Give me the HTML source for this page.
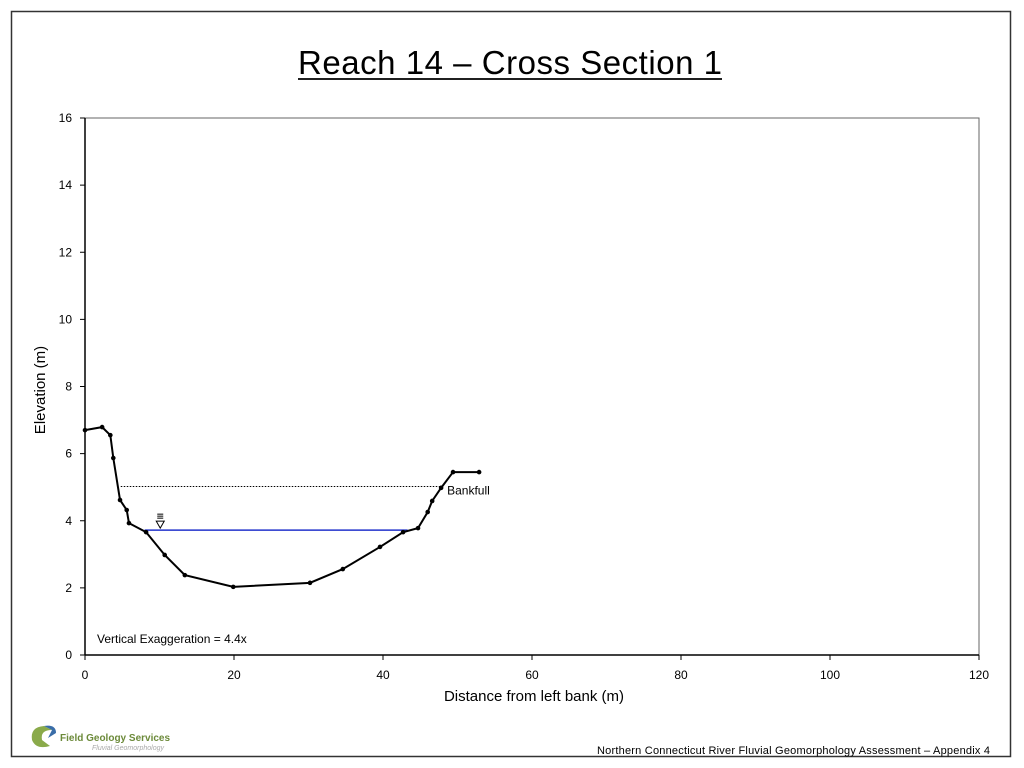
<!DOCTYPE html>
<html><head><meta charset="utf-8"><style>
body{margin:0;background:#fff;font-family:"Liberation Sans",sans-serif}
svg{display:block}
</style></head><body>
<svg width="1024" height="768" viewBox="0 0 1024 768">
<rect x="11.5" y="11.5" width="999" height="745" fill="none" stroke="#333" stroke-width="1.5"/>
<text x="510" y="74" font-size="33" text-anchor="middle" textLength="424">Reach 14 – Cross Section 1</text>
<line x1="298" y1="79" x2="722" y2="79" stroke="#000" stroke-width="1.8"/>
<rect x="85" y="118" width="894" height="537" fill="none" stroke="#666" stroke-width="1"/>
<g id="axes"></g>
<g id="marks"></g>
<text x="97" y="643" font-size="12">Vertical Exaggeration = 4.4x</text>
<text x="534" y="701" font-size="15" text-anchor="middle">Distance from left bank (m)</text>
<text x="45" y="390" font-size="15" text-anchor="middle" transform="rotate(-90 45 390)">Elevation (m)</text>
<g>
<path d="M32 740 Q30 727 44 726 L52 730 Q40 730 42 740 L50 746 Q36 750 32 740Z" fill="#8aaa4a"/>
<path d="M44 726 Q56 724 56 733 L48 738 L52 730Z" fill="#3a6da8"/>
<text x="60" y="741" font-size="10" fill="#6c8a3a" font-weight="bold">Field Geology Services</text>
<text x="92" y="750" font-size="7" fill="#aaa" font-style="italic">Fluvial Geomorphology</text>
</g>
<text x="990" y="754" font-size="11" text-anchor="end" textLength="393">Northern Connecticut River Fluvial Geomorphology Assessment – Appendix 4</text>
</svg>
<script>
const xTicks=[0,20,40,60,80,100,120];
const yTicks=[0,2,4,6,8,10,12,14,16];
const dist=[0,2.3,3.4,3.8,4.7,5.6,5.9,8.2,10.7,13.4,19.9,30.2,34.6,39.6,42.7,44.7,46.0,46.6,47.8,49.4,52.9];
const elev=[6.70,6.79,6.55,5.87,4.62,4.32,3.93,3.66,2.98,2.38,2.03,2.15,2.56,3.22,3.66,3.78,4.26,4.59,4.98,5.45,5.45];
const bankfullX=[4.8,47.8];const bankfullY=5.02;
const waterX=[8.0,43.3];const waterY=3.72;
const X=v=>85+v*(894/120), Y=v=>655-v*(537/16);
const NS="http://www.w3.org/2000/svg";
const ax=document.getElementById('axes'), mk=document.getElementById('marks');
function mkEl(t,a,p){const e=document.createElementNS(NS,t);for(const k in a)e.setAttribute(k,a[k]);p.appendChild(e);return e;}
let l=mkEl('line',{x1:85,y1:118,x2:85,y2:655,stroke:'#000','stroke-width':1.5},ax);


l=mkEl('line',{x1:85,y1:655,x2:979,y2:655,stroke:'#000','stroke-width':1.5},ax);


xTicks.forEach(v=>{mkEl('line',{x1:X(v),y1:655,x2:X(v),y2:660,stroke:'#000'},ax);
const t=mkEl('text',{x:X(v),y:679,'font-size':12,'text-anchor':'middle'},ax);t.textContent=v;

});
yTicks.forEach(v=>{mkEl('line',{x1:80,y1:Y(v),x2:85,y2:Y(v),stroke:'#000'},ax);
const t=mkEl('text',{x:72,y:Y(v)+4,'font-size':12,'text-anchor':'end'},ax);t.textContent=v;

});
let b=mkEl('line',{x1:X(bankfullX[0]),y1:Y(bankfullY),x2:X(bankfullX[1]),y2:Y(bankfullY),stroke:'#000','stroke-dasharray':'1.5,1.5'},mk);


let bt=mkEl('text',{x:X(bankfullX[1])+6,y:Y(bankfullY)+8,'font-size':12},mk);bt.textContent='Bankfull';


let w=mkEl('line',{x1:X(waterX[0]),y1:Y(waterY),x2:X(waterX[1]),y2:Y(waterY),stroke:'#2233cc','stroke-width':1.5},mk);


let ws=mkEl('g',{},mk);


const sx=X(10.1), sy=Y(waterY);
mkEl('path',{d:`M${sx-4} ${sy-9} L${sx+4} ${sy-9} L${sx} ${sy-2}Z`,fill:'none',stroke:'#000','stroke-width':1},ws);
[-16,-14,-12].forEach(d=>mkEl('line',{x1:sx-3,y1:sy+d,x2:sx+3,y2:sy+d,stroke:'#000','stroke-width':1},ws));
let p=mkEl('polyline',{points:dist.map((d,i)=>X(d)+','+Y(elev[i])).join(' '),fill:'none',stroke:'#000','stroke-width':2},mk);


dist.forEach((d,i)=>{const c=mkEl('circle',{cx:X(d),cy:Y(elev[i]),r:2.3,fill:'#000'},mk);

});
</script>
</body></html>
